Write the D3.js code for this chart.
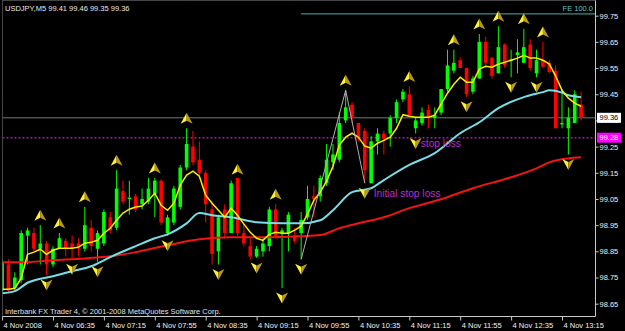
<!DOCTYPE html>
<html>
<head>
<meta charset="utf-8">
<script src="https://cdn.jsdelivr.net/npm/d3@7"></script>
<style>
   html, body { margin: 0; padding: 0; background: #000; }
   svg { display: block; font-family: "Liberation Sans", Arial, sans-serif; }
</style>
</head>
<body>
<svg class="mtchart" width="625" height="331"></svg>
<script>
// USDJPY M5, one bar every 5 minutes from 05:55 to 13:30
var opens = [98.70, 98.80, 98.71, 98.74, 98.91, 98.92, 98.86, 98.88, 98.80, 98.86,
   98.89, 98.88, 98.88, 98.86, 98.94, 98.86, 98.88, 98.98, 98.94, 99.08,
   99.05, 99.06, 99.03, 99.04, 99.07, 99.12, 98.92, 98.96, 99.02, 99.17,
   99.25, 99.20, 99.15, 99.01, 98.85, 99.01, 98.92, 99.13, 98.92, 98.87,
   98.83, 98.85, 98.87, 99.01, 98.92, 98.92, 98.91, 98.92, 98.98, 99.06,
   99.06, 99.11, 99.19, 99.20, 99.35, 99.41, 99.34, 99.31, 99.11, 99.27,
   99.30, 99.30, 99.36, 99.43, 99.45, 99.32, 99.34, 99.39, 99.36, 99.38,
   99.47, 99.54, 99.58, 99.55, 99.46, 99.51, 99.65, 99.59, 99.53, 99.64,
   99.579, 99.60, 99.57, 99.64, 99.53, 99.58, 99.57, 99.54, 99.335, 99.32,
   99.34, 99.41];
var highs = [98.82, 98.82, 98.77, 98.93, 98.94, 98.94, 98.95, 98.89, 98.87, 98.92,
   98.90, 98.91, 98.90, 99.02, 98.97, 98.93, 99.01, 99.00, 99.16, 99.12,
   99.12, 99.07, 99.09, 99.13, 99.13, 99.125, 98.99, 99.10, 99.18, 99.32,
   99.31, 99.27, 99.16, 99.04, 98.99, 99.03, 99.12, 99.125, 98.96, 98.90,
   98.87, 98.90, 99.02, 99.03, 98.94, 99.00, 98.94, 99.00, 99.10, 99.10,
   99.14, 99.26, 99.26, 99.38, 99.465, 99.42, 99.34, 99.32, 99.29, 99.32,
   99.31, 99.37, 99.43, 99.47, 99.48, 99.36, 99.40, 99.41, 99.40, 99.47,
   99.62, 99.62, 99.59, 99.55, 99.52, 99.68, 99.67, 99.59, 99.71, 99.645,
   99.62, 99.66, 99.70, 99.66, 99.62, 99.65, 99.58, 99.56, 99.47, 99.40,
   99.465, 99.46];
var lows = [98.69, 98.69, 98.70, 98.73, 98.80, 98.85, 98.80, 98.76, 98.79, 98.86,
   98.83, 98.82, 98.83, 98.85, 98.85, 98.81, 98.87, 98.92, 98.93, 99.03,
   98.99, 99.00, 99.01, 99.03, 98.98, 98.95, 98.91, 98.95, 99.01, 99.16,
   99.18, 99.14, 98.96, 98.80, 98.80, 98.90, 98.92, 98.91, 98.87, 98.82,
   98.825, 98.83, 98.85, 98.90, 98.71, 98.85, 98.88, 98.82, 98.97, 98.98,
   99.04, 99.10, 99.16, 99.19, 99.34, 99.34, 99.27, 99.11, 99.11, 99.22,
   99.22, 99.25, 99.34, 99.42, 99.36, 99.30, 99.33, 99.32, 99.32, 99.37,
   99.46, 99.53, 99.55, 99.44, 99.45, 99.51, 99.56, 99.51, 99.53, 99.55,
   99.515, 99.53, 99.57, 99.54, 99.515, 99.55, 99.53, 99.32, 99.32, 99.22,
   99.34, 99.35];
var closes = [98.81, 98.70, 98.75, 98.92, 98.93, 98.86, 98.88, 98.80, 98.86, 98.90,
   98.86, 98.86, 98.86, 98.95, 98.87, 98.92, 99.00, 98.93, 99.09, 99.04,
   99.055, 99.01, 99.05, 99.09, 99.12, 98.96, 98.98, 99.09, 99.17, 99.26,
   99.19, 99.15, 99.03, 98.84, 98.98, 98.92, 99.11, 98.92, 98.88, 98.83,
   98.86, 98.88, 99.01, 98.91, 98.93, 98.99, 98.89, 98.97, 99.05, 99.05,
   99.13, 99.20, 99.22, 99.34, 99.40, 99.36, 99.28, 99.16, 99.27, 99.30,
   99.28, 99.36, 99.42, 99.46, 99.37, 99.35, 99.38, 99.36, 99.37, 99.47,
   99.56, 99.57, 99.55, 99.45, 99.51, 99.65, 99.57, 99.52, 99.63, 99.56,
   99.583, 99.61, 99.63, 99.55, 99.58, 99.555, 99.535, 99.32, 99.34, 99.36,
   99.45, 99.36];

// moving averages
var maFast = [98.705, 98.705, 98.709, 98.747, 98.839, 98.847, 98.858, 98.839, 98.854, 98.862,
   98.862, 98.862, 98.866, 98.881, 98.885, 98.892, 98.919, 98.938, 98.969, 98.996,
   99.011, 99.019, 99.023, 99.045, 99.072, 99.026, 99.007, 99.034, 99.103, 99.141,
   99.156, 99.137, 99.064, 99.034, 99.007, 98.980, 99.015, 98.988, 98.954, 98.923,
   98.900, 98.892, 98.915, 98.923, 98.919, 98.919, 98.931, 98.946, 98.992, 99.045,
   99.076, 99.118, 99.175, 99.256, 99.286, 99.301, 99.286, 99.252, 99.244, 99.263,
   99.274, 99.286, 99.320, 99.372, 99.366, 99.362, 99.362, 99.362, 99.370, 99.412,
   99.454, 99.488, 99.515, 99.496, 99.496, 99.546, 99.557, 99.553, 99.565, 99.572,
   99.580, 99.588, 99.599, 99.588, 99.588, 99.580, 99.565, 99.519, 99.465, 99.435,
   99.416, 99.404];
var maMid = [[0, 98.690], [2, 98.698], [4, 98.730], [8, 98.755], [11, 98.774], [14, 98.793],
   [17, 98.828], [21, 98.870], [24, 98.900], [26, 98.915], [29, 98.957], [31, 98.996],
   [33, 98.988], [36, 98.980], [40, 98.961], [44, 98.957], [47, 98.957], [50, 98.969],
   [52, 99.007], [55, 99.076], [58, 99.091], [60, 99.122], [64, 99.180], [68, 99.225],
   [72, 99.301], [75, 99.343], [78, 99.397], [82, 99.439], [85, 99.458], [86, 99.465],
   [88, 99.456], [89, 99.446], [91, 99.439]];
var maSlow = [[0, 98.808], [3, 98.808], [8, 98.816], [13, 98.823], [17, 98.831], [21, 98.847],
   [26, 98.873], [31, 98.896], [36, 98.904], [42, 98.904], [47, 98.908], [50, 98.912],
   [53, 98.938], [56, 98.957], [60, 98.980], [64, 99.015], [69, 99.049], [74, 99.091],
   [80, 99.133], [84, 99.167], [86, 99.190], [89, 99.205], [91, 99.209]];

// fractals and the FE swing
var upFractals = [6, 9, 13, 18, 24, 29, 37, 43, 54, 64, 71, 75, 78, 82, 85];
var downFractals = [7, 11, 15, 26, 34, 40, 44, 47, 57, 65, 73, 80, 84, 89];
var zigzag = [[47, 98.82], [54, 99.465], [57, 99.11]];

var bidPrice = 99.36;
var stopPrice = 99.284;
var fePrice = 99.757;
var notes = [
   {bar: 65.8, price: 99.263, text: 'stop loss'},
   {bar: 58.4, price: 99.070, text: 'Initial stop loss'}
];

var priceTicks = [99.75, 99.65, 99.55, 99.45, 99.35, 99.25, 99.15, 99.05, 98.95, 98.85, 98.75, 98.65];
var timeTicks = [0, 8, 16, 24, 32, 40, 48, 56, 64, 72, 80, 88];
var timeLabels = ['4 Nov 2008', '4 Nov 06:35', '4 Nov 07:15', '4 Nov 07:55', '4 Nov 08:35', '4 Nov 09:15',
   '4 Nov 09:55', '4 Nov 10:35', '4 Nov 11:15', '4 Nov 11:55', '4 Nov 12:35', '4 Nov 13:15'];

(function drawChart() {
   var svg = d3.select('svg.mtchart');

   var plot = {left: 2.5, right: 595.5, top: 0.5, bottom: 316.5};

   var x = d3.scaleLinear().domain([0, 91]).range([2.1, 581.1]);
   var y = d3.scaleLinear().domain([98.65, 99.75]).range([303.7, 15.7]);

   var up = '#00ff00', down = '#ff0000';
   var bodyWidth = 3.6;

   svg.append('rect')
      .attr('width', 625).attr('height', 331)
      .attr('fill', '#000');

   svg.append('clipPath').attr('id', 'plotclip')
      .append('rect')
      .attr('x', plot.left).attr('y', plot.top)
      .attr('width', plot.right - plot.left).attr('height', plot.bottom - plot.top);

   var g = svg.append('g').attr('clip-path', 'url(#plotclip)');

   // horizontal objects
   g.append('line')
      .attr('x1', plot.left).attr('x2', plot.right)
      .attr('y1', y(bidPrice)).attr('y2', y(bidPrice))
      .attr('stroke', '#6a7a7a').attr('stroke-width', 1);

   g.append('line')
      .attr('x1', plot.left).attr('x2', plot.right)
      .attr('y1', y(stopPrice)).attr('y2', y(stopPrice))
      .attr('stroke', '#b010b8').attr('stroke-width', 1.6)
      .attr('stroke-dasharray', '2,2');

   g.append('line')
      .attr('x1', x(zigzag[0][0])).attr('x2', plot.right)
      .attr('y1', y(fePrice)).attr('y2', y(fePrice))
      .attr('stroke', '#3f8a8a').attr('stroke-width', 1.2);

   // candles
   var bars = d3.range(opens.length).map(function (i) {
      return {i: i, o: opens[i], h: highs[i], l: lows[i], c: closes[i]};
   });

   var candle = g.append('g').selectAll('g')
      .data(bars)
      .enter().append('g')
      .attr('fill', function (d) { return d.c >= d.o ? up : down; })
      .attr('stroke', function (d) { return d.c >= d.o ? up : down; });

   candle.append('line')
      .attr('x1', function (d) { return x(d.i); })
      .attr('x2', function (d) { return x(d.i); })
      .attr('y1', function (d) { return y(d.h); })
      .attr('y2', function (d) { return y(d.l); })
      .attr('stroke-width', 1);

   candle.append('rect')
      .attr('stroke', 'none')
      .attr('x', function (d) { return x(d.i) - bodyWidth / 2; })
      .attr('width', bodyWidth)
      .attr('y', function (d) { return y(Math.max(d.o, d.c)); })
      .attr('height', function (d) { return Math.max(1.2, Math.abs(y(d.o) - y(d.c))); });

   // moving averages
   var slowLine = d3.line()
      .x(function (d) { return x(d[0]); })
      .y(function (d) { return y(d[1]); })
      .curve(d3.curveMonotoneX);

   g.append('path').datum(maSlow)
      .attr('d', slowLine)
      .attr('fill', 'none').attr('stroke', '#f01414').attr('stroke-width', 2);

   g.append('path').datum(maMid)
      .attr('d', slowLine)
      .attr('fill', 'none').attr('stroke', '#78dde8').attr('stroke-width', 2);

   g.append('path').datum(maFast)
      .attr('d', d3.line()
         .x(function (d, i) { return x(i); })
         .y(function (d) { return y(d); }))
      .attr('fill', 'none').attr('stroke', '#f4f000').attr('stroke-width', 1.5);

   g.append('path').datum(zigzag)
      .attr('d', d3.line()
         .x(function (d) { return x(d[0]); })
         .y(function (d) { return y(d[1]); }))
      .attr('fill', 'none').attr('stroke', '#b0b0b0').attr('stroke-width', 1);

   // fractal arrows
   var arrowUp = g.append('g').selectAll('g')
      .data(upFractals)
      .enter().append('g')
      .attr('transform', function (i) { return 'translate(' + x(i) + ',' + (y(highs[i]) - 10) + ')'; });
   arrowUp.append('path').attr('d', 'M0,-5.5L-6,5.5L0,2.5Z').attr('fill', '#fff03a');
   arrowUp.append('path').attr('d', 'M0,-5.5L6,5.5L0,2.5Z').attr('fill', '#b89a1c');

   var arrowDown = g.append('g').selectAll('g')
      .data(downFractals)
      .enter().append('g')
      .attr('transform', function (i) { return 'translate(' + x(i) + ',' + (y(lows[i]) + 10) + ')'; });
   arrowDown.append('path').attr('d', 'M0,5.5L-6,-5.5L0,-2.5Z').attr('fill', '#fff03a');
   arrowDown.append('path').attr('d', 'M0,5.5L6,-5.5L0,-2.5Z').attr('fill', '#b89a1c');

   // text objects
   g.selectAll('.note')
      .data(notes)
      .enter().append('text')
      .attr('class', 'note')
      .attr('x', function (d) { return x(d.bar); })
      .attr('y', function (d) { return y(d.price); })
      .attr('dy', '0.35em')
      .attr('fill', '#b830c8')
      .style('font-size', '10.2px')
      .text(function (d) { return d.text; });

   svg.append('text')
      .attr('x', 5).attr('y', 10.5)
      .attr('fill', '#e8e8e8')
      .style('font-size', '7.5px')
      .text('USDJPY,M5  99.41 99.46 99.35 99.36');

   svg.append('text')
      .attr('x', 593).attr('y', 11)
      .attr('text-anchor', 'end')
      .attr('fill', '#5cc4c4')
      .style('font-size', '7.5px')
      .text('FE 100.0');

   svg.append('text')
      .attr('x', 5).attr('y', 313.5)
      .attr('fill', '#e0e0e0')
      .style('font-size', '7.5px')
      .text('Interbank FX Trader 4, \u00a9 2001-2008 MetaQuotes Software Corp.');

   // frame
   svg.append('path')
      .attr('d', 'M' + plot.left + ',' + plot.bottom + 'V' + plot.top + 'H' + plot.right)
      .attr('fill', 'none').attr('stroke', '#8a8a8a').attr('stroke-dasharray', '1,1');

   // axes
   var yAxis = d3.axisRight(y)
      .tickValues(priceTicks)
      .tickSize(3)
      .tickPadding(1)
      .tickFormat(d3.format('.2f'));

   var yAxisGroup = svg.append('g')
      .attr('transform', 'translate(' + plot.right + ',0)')
      .call(yAxis);
   yAxisGroup.select('.domain').attr('stroke', '#c8c8c8')
      .attr('d', 'M0,' + plot.top + 'V' + plot.bottom);
   yAxisGroup.selectAll('.tick line').attr('stroke', '#c8c8c8');
   yAxisGroup.selectAll('.tick text')
      .attr('fill', '#f0f0f0')
      .style('font-size', '7.5px')
      .style('font-family', '"Liberation Sans", Arial, sans-serif');

   var xAxis = d3.axisBottom(x)
      .tickValues(timeTicks)
      .tickSize(4)
      .tickFormat(function (d, i) { return timeLabels[i]; });

   var xAxisGroup = svg.append('g')
      .attr('transform', 'translate(0,' + plot.bottom + ')')
      .call(xAxis);
   xAxisGroup.select('.domain').attr('stroke', '#c8c8c8')
      .attr('d', 'M' + plot.left + ',0H' + plot.right);
   xAxisGroup.selectAll('.tick line').attr('stroke', '#c8c8c8');
   xAxisGroup.selectAll('.tick text')
      .attr('fill', '#f0f0f0')
      .attr('text-anchor', 'start')
      .attr('x', 1)
      .attr('y', 6)
      .style('font-size', '7.5px')
      .style('font-family', '"Liberation Sans", Arial, sans-serif');

   // price boxes on the scale
   function priceBox(price, label, fill, color) {
      var box = svg.append('g').attr('transform', 'translate(' + (plot.right + 1.5) + ',' + y(price) + ')');
      box.append('rect')
         .attr('x', 0).attr('y', -5)
         .attr('width', 24).attr('height', 10)
         .attr('fill', fill);
      box.append('text')
         .attr('x', 2.5).attr('dy', '0.35em')
         .attr('fill', color)
         .style('font-size', '7.5px')
         .text(label);
   }

   priceBox(bidPrice, d3.format('.2f')(bidPrice), '#ffffff', '#000000');
   priceBox(stopPrice, d3.format('.2f')(stopPrice), '#ff00ff', '#ffffff');
})();
</script>
</body>
</html>
